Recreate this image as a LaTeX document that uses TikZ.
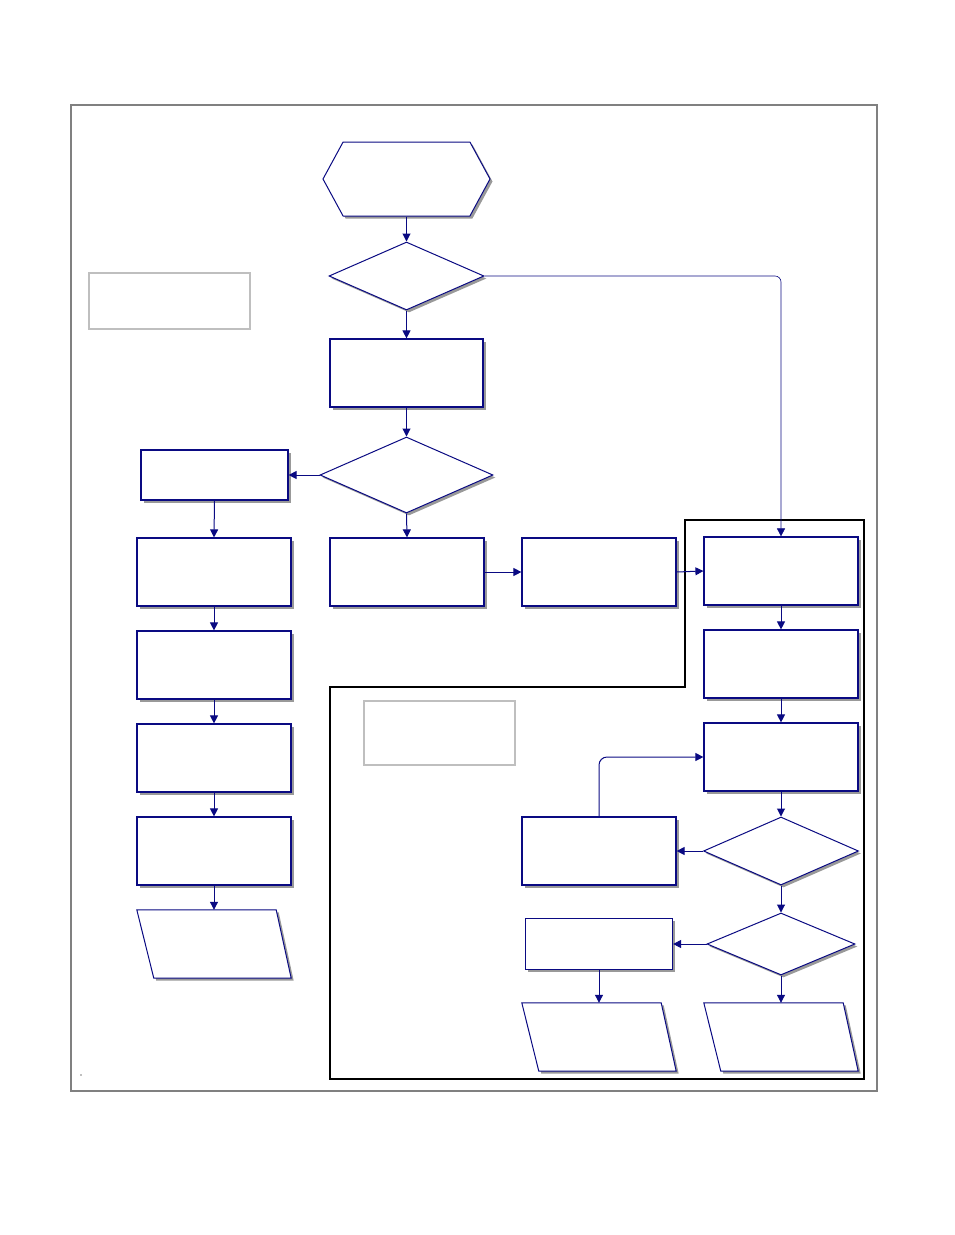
\documentclass[tikz,border=0pt]{standalone}
\usepackage{xcolor}
\usepackage{tikz}
\usetikzlibrary{shapes.geometric, shapes.symbols, arrows.meta, shadows}

\definecolor{flownavy}{RGB}{10,10,130}

\begin{document}
\begin{tikzpicture}[
    x=1pt, y=-1pt,
    % Styles
    shade/.style={drop shadow={shadow xshift=2.5pt, shadow yshift=-2.5pt, fill=gray!80, opacity=1}},
    procbox/.style={rectangle, draw=flownavy, line width=1.2pt, fill=white, shade, inner sep=0pt, minimum width=154pt, minimum height=68pt},
    decision/.style={diamond, draw=flownavy, line width=1pt, fill=white, shade, inner sep=0pt, minimum width=155pt, minimum height=68pt},
    ioline/.style={draw=flownavy, line width=1pt, fill=white, shade},
    iobox/.style={rectangle, inner sep=0pt, minimum width=154pt, minimum height=68pt,
        append after command={\pgfextra{\draw[ioline] (\tikzlastnode.north west) -- ([xshift=-15pt]\tikzlastnode.north east)
            -- (\tikzlastnode.south east) -- ([xshift=17pt]\tikzlastnode.south west) -- cycle;}}},
    startbox/.style={signal, signal to=east and west, signal pointer angle=123, draw=flownavy, line width=1pt, fill=white, shade, inner sep=0pt, minimum width=167pt, minimum height=74pt},
    notebox/.style={rectangle, draw=gray!50, line width=1.2pt, fill=white, inner sep=0pt},
    arrow/.style={-{Triangle[width=8pt, length=8pt]}, line width=1pt, color=flownavy}
]
\useasboundingbox (0,0) rectangle (954,1235);

% Outer frame
\draw[gray, line width=2.5pt] (71,105) rectangle (877,1091);

% Boundary of the lower right part
\draw[black, line width=2pt] (330,1079) -- (330,687) -- (685,687) -- (685,520) -- (864,520) -- (864,1079) -- cycle;

% Notes
\node[notebox, minimum width=161pt, minimum height=56pt] (note1) at (169.5,301) {};
\node[notebox, minimum width=151pt, minimum height=64pt] (note2) at (439.5,733) {};
\fill[gray] (81,1075) circle (0.8pt);

% Main column
\node[startbox] (start) at (406.5,179) {};
\node[decision] (dec1) at (406.5,276) {};
\node[procbox, minimum width=153pt] (procA) at (406.5,373) {};
\node[decision, minimum width=173pt, minimum height=76pt] (dec2) at (406.5,475) {};
\node[procbox] (procM) at (407,572) {};
\node[procbox] (procN) at (599,572) {};

% Left column
\node[procbox, minimum width=147pt, minimum height=50pt] (left1) at (214.5,475) {};
\node[procbox] (left2) at (214,572) {};
\node[procbox] (left3) at (214,665) {};
\node[procbox] (left4) at (214,758) {};
\node[procbox] (left5) at (214,851) {};
\node[iobox] (left6) at (214,944) {};

% Right column
\node[procbox] (right1) at (781,571) {};
\node[procbox] (right2) at (781,664) {};
\node[procbox] (right3) at (781,757) {};
\node[decision] (dec3) at (781,851) {};
\node[decision, minimum width=148pt, minimum height=62pt] (dec4) at (781,944) {};
\node[iobox] (right6) at (781,1037) {};

% Side branch
\node[procbox] (side1) at (599,851) {};
\node[procbox, minimum width=147pt, minimum height=51pt] (side2) at (599,944) {};
\node[iobox] (side3) at (599,1037) {};

% Arrows
\draw[arrow] (start.south) -- (dec1.north);
\draw[arrow] (dec1.south) -- (procA.north);
\draw[arrow, line width=0.6pt, rounded corners=6pt] (dec1.east) -| (right1.north);
\draw[arrow] (procA.south) -- (dec2.north);
\draw[arrow] (dec2.west) -- (left1.east);
\draw[arrow] (dec2.south) -- (procM.north);
\draw[arrow] (left1.south) -- (left2.north);
\draw[arrow] (left2.south) -- (left3.north);
\draw[arrow] (left3.south) -- (left4.north);
\draw[arrow] (left4.south) -- (left5.north);
\draw[arrow] (left5.south) -- (left6.north);
\draw[arrow] (procM.east) -- (procN.west);
\draw[arrow] (procN.east) -- (right1.west);
\draw[arrow] (right1.south) -- (right2.north);
\draw[arrow] (right2.south) -- (right3.north);
\draw[arrow] (right3.south) -- (dec3.north);
\draw[arrow] (dec3.west) -- (side1.east);
\draw[arrow, rounded corners=8pt] (side1.north) |- (right3.west);
\draw[arrow] (dec3.south) -- (dec4.north);
\draw[arrow] (dec4.west) -- (side2.east);
\draw[arrow] (side2.south) -- (side3.north);
\draw[arrow] (dec4.south) -- (right6.north);

\end{tikzpicture}
\end{document}
